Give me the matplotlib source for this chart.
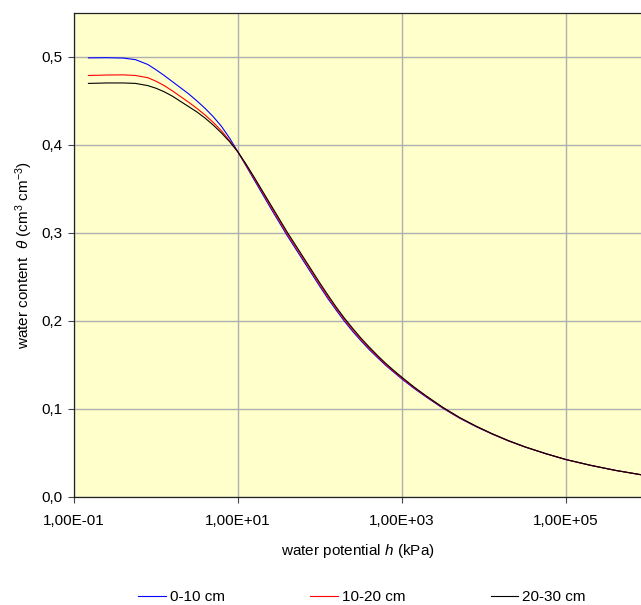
import matplotlib
matplotlib.use("Agg")
import numpy as np
import matplotlib.pyplot as plt
import matplotlib.ticker as mticker

plt.rcParams.update({
    "font.family": ["Liberation Sans", "DejaVu Sans"],
    "font.size": 11,
    "mathtext.fontset": "custom",
    "mathtext.rm": "Liberation Sans",
    "mathtext.it": "Liberation Sans:italic",
})

# log10 of water potential h (kPa)
log_h = [-0.824, -0.6, -0.4, -0.25, -0.1, 0.0, 0.1, 0.2, 0.3, 0.4, 0.5, 0.6,
         0.7, 0.8, 0.9, 1.0, 1.1, 1.2, 1.3, 1.4, 1.5, 1.6, 1.7, 1.8, 1.9,
         2.0, 2.1, 2.2, 2.3, 2.4, 2.5, 2.6, 2.7, 2.8, 2.9, 3.0, 3.15, 3.3,
         3.5, 3.7, 3.9, 4.1, 4.3, 4.5, 4.75, 5.0, 5.3, 5.6, 5.915]

theta_0_10 = [0.499, 0.4992, 0.4988, 0.497, 0.4915, 0.4855, 0.479, 0.472,
              0.465, 0.458, 0.450, 0.4415, 0.432, 0.421, 0.4075, 0.392, 0.376,
              0.360, 0.344, 0.328, 0.3125, 0.297, 0.2825, 0.268, 0.2535, 0.239,
              0.225, 0.212, 0.1995, 0.188, 0.1775, 0.1675, 0.1585, 0.1497,
              0.1418, 0.134, 0.1232, 0.1133, 0.1008, 0.0897, 0.0801, 0.0715,
              0.0637, 0.0568, 0.0493, 0.0425, 0.0360, 0.0303, 0.0253]
theta_10_20 = [0.479, 0.4795, 0.4797, 0.479, 0.4765, 0.4725, 0.4675, 0.4615,
               0.455, 0.4485, 0.4415, 0.434, 0.4255, 0.416, 0.4045, 0.392,
               0.377, 0.3615, 0.346, 0.330, 0.3145, 0.299, 0.2845, 0.270,
               0.2555, 0.241, 0.227, 0.2138, 0.2013, 0.1898, 0.179, 0.169,
               0.1598, 0.1508, 0.1428, 0.135, 0.124, 0.114, 0.1013, 0.0901,
               0.0804, 0.0717, 0.0638, 0.0569, 0.0493, 0.0425, 0.0360, 0.0303,
               0.0253]
theta_20_30 = [0.470, 0.4705, 0.4705, 0.470, 0.4675, 0.4645, 0.4605, 0.4555,
               0.4495, 0.4435, 0.4375, 0.4305, 0.4225, 0.4135, 0.4035, 0.392,
               0.378, 0.363, 0.3475, 0.332, 0.3165, 0.301, 0.2865, 0.272,
               0.2575, 0.243, 0.229, 0.2155, 0.203, 0.1915, 0.1805, 0.1705,
               0.161, 0.152, 0.1438, 0.136, 0.1248, 0.1146, 0.1018, 0.0905,
               0.0807, 0.0719, 0.0640, 0.0570, 0.0494, 0.0426, 0.0360, 0.0303,
               0.0253]

series = [("0-10 cm", theta_0_10, "#0000FF"),
          ("10-20 cm", theta_10_20, "#FF0000"),
          ("20-30 cm", theta_20_30, "#000000")]

h_kpa = 10 ** np.array(log_h)

W, H = 641, 605
fig = plt.figure(figsize=(W / 100, H / 100), dpi=100)
ax = fig.add_axes([74 / W, 1 - 497 / H, (W - 74) / W, (497 - 13) / H])
ax.set_facecolor("#FFFFCC")

for label, vals, col in series:
    ax.plot(h_kpa, vals, color=col, lw=0.8, label=label, zorder=3)

ax.set_xscale("log")
ax.set_xlim(0.1, 10 ** 5.915)
ax.set_ylim(0, 0.55)
ax.xaxis.set_major_locator(mticker.FixedLocator([1e-1, 1e1, 1e3, 1e5]))
ax.xaxis.set_minor_locator(mticker.NullLocator())
ax.xaxis.set_major_formatter(mticker.FuncFormatter(lambda v, _: f"{v:.2E}".replace(".", ",")))
ax.yaxis.set_major_locator(mticker.MultipleLocator(0.1))
ax.yaxis.set_major_formatter(mticker.FuncFormatter(lambda v, _: f"{v:.1f}".replace(".", ",")))

ax.grid(True, color="#b0b0b0", lw=1, zorder=1)
ax.set_axisbelow(True)
ax.tick_params(axis="both", direction="out", length=4.5, width=0.8, color="#444444")
ax.tick_params(axis="x", pad=8)
ax.tick_params(axis="y", pad=4)

for side in ("left", "bottom", "top"):
    ax.spines[side].set_linestyle((0, (2, 1)))
    ax.spines[side].set_linewidth(0.9)
    ax.spines[side].set_color("#222222")
ax.spines["right"].set_visible(False)

fig.text(357.5 / W, 1 - 551 / H, r"water potential $h$ (kPa)", ha="center", va="center")
fig.text(24 / W, 1 - 255 / H, r"water content  $\theta$ (cm$^3$ cm$^{-3}$)",
         rotation=90, ha="center", va="center")

fig.legend(loc="center", bbox_to_anchor=(362 / W, 1 - 597 / H), ncol=3, frameon=False,
           handlelength=1.8, handletextpad=0.25, columnspacing=5.6, borderaxespad=0)

fig.savefig("out.png", dpi=100)
